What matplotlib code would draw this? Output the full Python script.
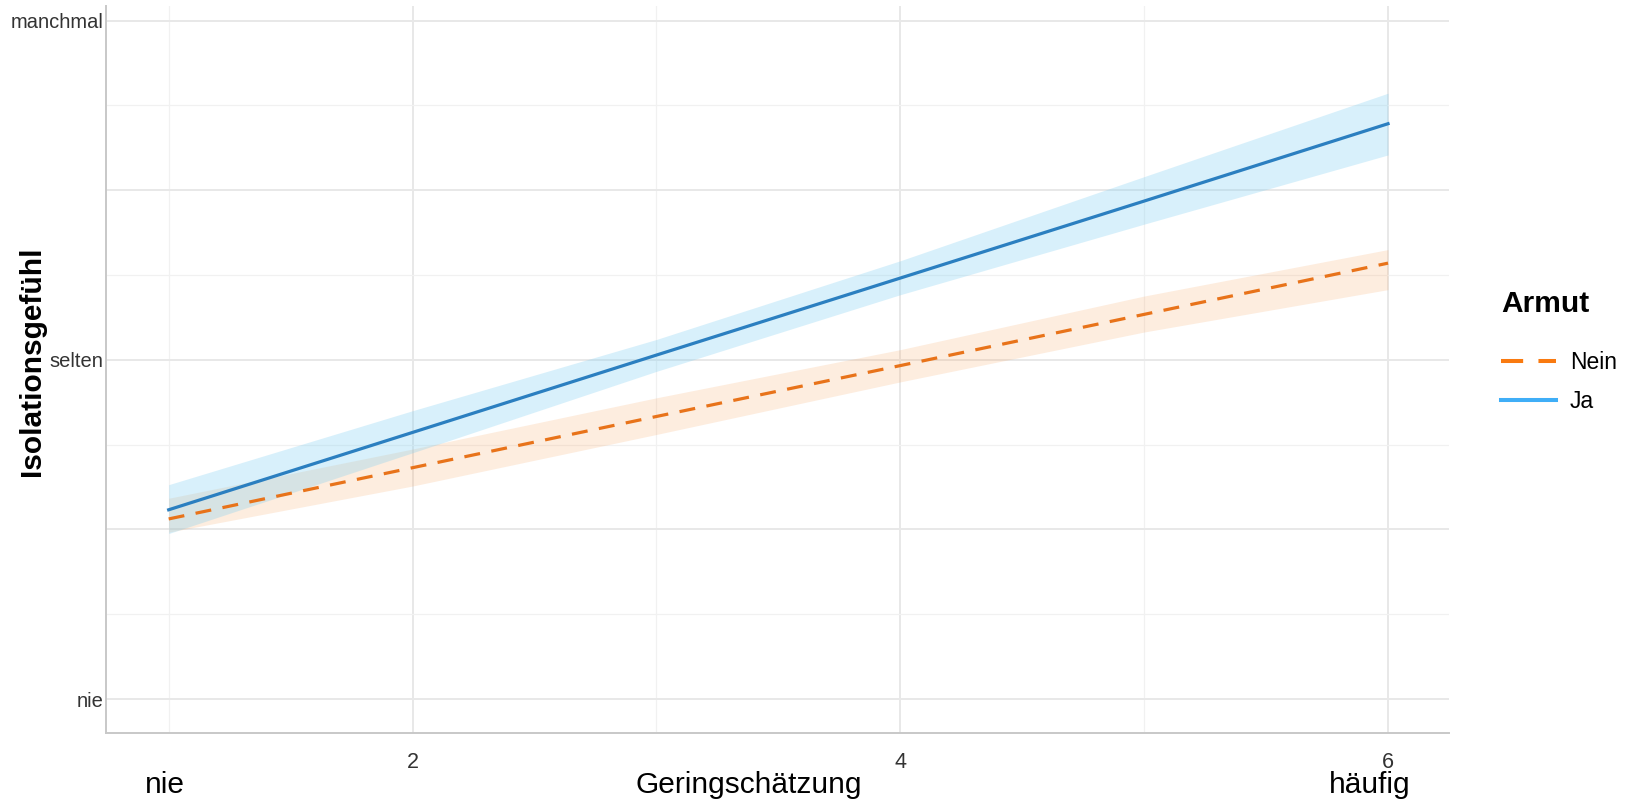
import numpy as np
import matplotlib
matplotlib.use("Agg")
import matplotlib.pyplot as plt
from matplotlib.lines import Line2D

plt.rcParams['font.family'] = ['Liberation Sans', 'DejaVu Sans']

# values (Geringschätzung 1..6)
geringschaetzung = [1, 2, 3, 4, 5, 6]
ja_fit = [1.558, 1.786, 2.014, 2.241, 2.468, 2.696]
ja_lo = [1.488, 1.726, 1.966, 2.192, 2.400, 2.604]
ja_hi = [1.632, 1.850, 2.060, 2.292, 2.540, 2.786]
nein_fit = [1.531, 1.682, 1.833, 1.983, 2.134, 2.285]
nein_lo = [1.492, 1.628, 1.780, 1.935, 2.082, 2.207]
nein_hi = [1.592, 1.737, 1.888, 2.030, 2.188, 2.325]

y_ticks = [1, 1.5, 2, 2.5, 3]
y_labels = ['nie', '', 'selten', '', 'manchmal']
x_ticks = [2, 4, 6]

W, H = 1626, 799
fig = plt.figure(figsize=(W / 100, H / 100), dpi=100)
ax = fig.add_axes([106 / W, 1 - 733 / H, (1449 - 106) / W, (733 - 6) / H])

# Konfidenzbänder
ax.fill_between(geringschaetzung, nein_lo, nein_hi, color='#F9A55F', alpha=0.2, lw=0, zorder=2)
ax.fill_between(geringschaetzung, ja_lo, ja_hi, color='#7FCFF2', alpha=0.3, lw=0, zorder=2)

# Regressionslinien
ax.plot(geringschaetzung, nein_fit, color='#E8731A', lw=2.3, dashes=(5, 3.6), zorder=3)
ax.plot(geringschaetzung, ja_fit, color='#2B7FC0', lw=2.3, zorder=4)

ax.set_xlim(0.743, 6.25)
ax.set_ylim(0.90, 3.043)

ax.set_xticks(x_ticks)
ax.set_xticks([1, 3, 5], minor=True)
ax.set_yticks(y_ticks)
ax.set_yticklabels(y_labels)
ax.set_yticks([1.25, 1.75, 2.25, 2.75], minor=True)

ax.grid(True, which='major', color='#E8E8E8', lw=1.4, zorder=0)
ax.grid(True, which='minor', color='#F1F1F1', lw=0.9, zorder=0)
ax.set_axisbelow(True)

ax.tick_params(axis='both', which='both', length=0)
ax.tick_params(axis='x', labelsize=15.5, pad=14, labelcolor='#333333')
ax.tick_params(axis='y', labelsize=14.5, pad=2, labelcolor='#333333')

for s in ['top', 'right']:
    ax.spines[s].set_visible(False)
for s in ['left', 'bottom']:
    ax.spines[s].set_color('#C8C8C8')
    ax.spines[s].set_linewidth(1.4)

# Achsenbeschriftungen
fig.text(32 / W, 1 - 361.5 / H, 'Isolationsgefühl', rotation=90, fontsize=21.5,
         fontweight='bold', ha='center', va='center')
fig.text(165 / W, 1 - 785 / H, 'nie', fontsize=21.5, ha='center', va='center')
fig.text(749 / W, 1 - 785 / H, 'Geringschätzung', fontsize=21.5, ha='center', va='center')
fig.text(1370 / W, 1 - 785 / H, 'häufig', fontsize=21.5, ha='center', va='center')

# Legende
handles = [
    Line2D([], [], color='#F97A10', lw=2.9, dashes=(5.5, 3.8)),
    Line2D([], [], color='#3FAEF7', lw=2.9),
]
leg = fig.legend(handles, ['Nein', 'Ja'], title='Armut', loc='upper left',
                 bbox_to_anchor=(1501 / W, 1 - 290 / H), frameon=False,
                 fontsize=16.5, handlelength=2.4, handletextpad=0.6,
                 labelspacing=0.73, borderpad=0, borderaxespad=0)
leg.get_title().set_fontsize(21.5)
leg.get_title().set_fontweight('bold')
leg._legend_box.align = 'left'
leg._legend_box.sep = 23.5

fig.savefig('out.png', dpi=100)
